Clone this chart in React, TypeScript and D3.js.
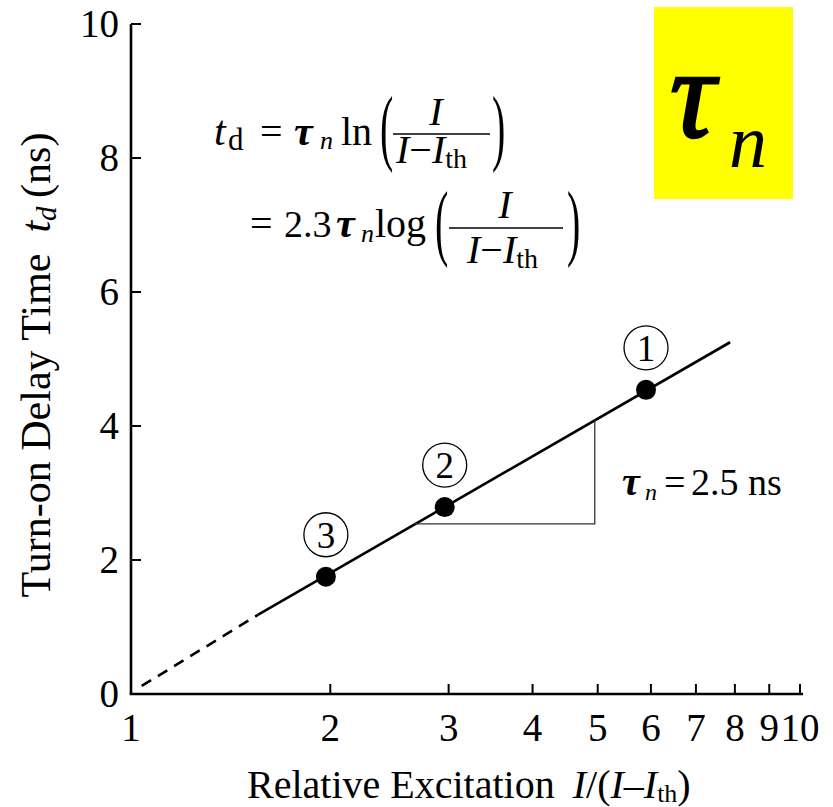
import React from "react";
import * as d3 from "d3";

// ---- data ----
const xTickValues = [1, 2, 3, 4, 5, 6, 7, 8, 9, 10];
const xTickLabels = ["1", "2", "3", "4", "5", "6", "7", "8", "9", "10"];
const yTickValues = [0, 2, 4, 6, 8, 10];
const yTickLabels = ["0", "2", "4", "6", "8", "10"];

// measured points (relative excitation, delay time ns)
const pointX = [5.9, 2.96, 1.97];
const pointY = [4.54, 2.79, 1.75];
const pointLabels = ["1", "2", "3"];

// fitted line: dashed extrapolation then solid
const dashX = [1.048, 1.56];
const dashY = [0.12, 1.18];
const solidX = [1.56, 7.87];
const solidY = [1.18, 5.25];

// slope triangle corners
const triX = [2.67, 4.95, 4.95];
const triY = [2.54, 2.54, 4.1];

const FONT = "'Liberation Serif', 'Times New Roman', serif";

export default function App() {
  const W = 833, H = 807;
  const x = d3.scaleLog().domain([1, 10]).range([128, 800]);
  const y = d3.scaleLinear().domain([0, 10]).range([694, 24]);
  const mk = (xs: number[], ys: number[]) =>
    d3.line<[number, number]>().x(d => x(d[0])).y(d => y(d[1]))(xs.map((v, i) => [v, ys[i]]) as [number, number][]) || "";
  const triPath = mk(triX, triY);
  const axisX0 = 131;
  const axisY0 = 694;

  const paren = (px: number, cy: number, ch: string, fs = 40, sy = 2.1) => (
    <text transform={`translate(${px},${cy}) scale(1,${sy})`} y={fs * 0.25} fontSize={fs} fontFamily={FONT}>{ch}</text>
  );

  return (
    <svg width={W} height={H} style={{ position: "absolute", left: 0, top: 0, background: "#fff" }} fontFamily={FONT}>
      <rect x={0} y={0} width={W} height={H} fill="#fff" />
      {/* yellow tau box */}
      <rect x={654} y={7} width={139} height={192} fill="#FFFF00" />
      <text x={670} y={137} fontSize={126} fontStyle="italic" stroke="#000" strokeWidth={2.5} fontFamily={FONT}>τ</text>
      <text x={729} y={167} fontSize={76} fontStyle="italic" fontFamily={FONT}>n</text>

      {/* axes */}
      <line x1={axisX0} x2={axisX0} y1={y(10)} y2={axisY0} stroke="#000" strokeWidth={2.6} />
      <line x1={axisX0 - 1.3} x2={803} y1={axisY0} y2={axisY0} stroke="#000" strokeWidth={2.6} />
      {yTickValues.filter(v => v > 0).map(v => (
        <line key={"yt" + v} x1={axisX0} x2={axisX0 + 10} y1={y(v)} y2={y(v)} stroke="#000" strokeWidth={2} />
      ))}
      {xTickValues.filter(v => v > 1).map(v => (
        <line key={"xt" + v} x1={x(v)} x2={x(v)} y1={axisY0} y2={axisY0 - 10} stroke="#000" strokeWidth={2} />
      ))}
      {yTickValues.map((v, i) => (
        <text key={"yl" + v} x={119} y={y(v) + 13} textAnchor="end" fontSize={39}>{yTickLabels[i]}</text>
      ))}
      {xTickValues.map((v, i) => (
        <text key={"xl" + v} x={v === 1 ? axisX0 : x(v)} y={741} textAnchor="middle" fontSize={39}>{xTickLabels[i]}</text>
      ))}

      {/* axis titles */}
      <text x={247} y={798} fontSize={40}>
        Relative Excitation{"\u00a0\u2009"}
        <tspan fontStyle="italic">I</tspan>/(<tspan fontStyle="italic">I</tspan>–<tspan fontStyle="italic">I</tspan>
        <tspan fontSize={26} dy={4}>th</tspan><tspan dy={-4}>)</tspan>
      </text>
      <text transform="translate(50,365) rotate(-90)" textAnchor="middle" fontSize={42}>
        Turn-on Delay Time{"\u00a0\u00a0"}
        <tspan fontStyle="italic">t</tspan>
        <tspan fontStyle="italic" fontSize={29} dy={6}>d</tspan>
        <tspan dy={-6}>{"\u2009"}(ns)</tspan>
      </text>

      {/* fitted line */}
      <path d={mk(dashX, dashY)} fill="none" stroke="#000" strokeWidth={2.6} strokeDasharray="11,8" />
      <path d={mk(solidX, solidY)} fill="none" stroke="#000" strokeWidth={2.6} />
      <path d={triPath} fill="none" stroke="#333" strokeWidth={1.3} />

      {/* points and circled labels */}
      {pointX.map((v, i) => (
        <g key={"p" + i}>
          <circle cx={x(v)} cy={y(pointY[i])} r={10} fill="#000" />
          <circle cx={x(v)} cy={y(pointY[i]) - 42} r={22} fill="none" stroke="#000" strokeWidth={1.3} />
          <text x={x(v)} y={y(pointY[i]) - 42 + 13} textAnchor="middle" fontSize={37}>{pointLabels[i]}</text>
        </g>
      ))}

      {/* tau_n = 2.5 ns */}
      <text x={622} y={495} fontSize={40} fontStyle="italic" fontWeight="bold">τ</text>
      <text x={645} y={500} fontSize={24} fontStyle="italic">n</text>
      <text x={664} y={495} fontSize={38}>=</text>
      <text x={691} y={495} fontSize={38}>2.5 ns</text>

      {/* formula line 1 */}
      <text x={214} y={145} fontSize={42} fontStyle="italic">t</text>
      <text x={228} y={150} fontSize={31}>d</text>
      <text x={260} y={145} fontSize={40}>=</text>
      <text x={294} y={145} fontSize={42} fontStyle="italic" fontWeight="bold">τ</text>
      <text x={320} y={149} fontSize={26} fontStyle="italic">n</text>
      <text x={341} y={145} fontSize={40}>ln</text>
      {paren(380, 133.5, "(")}
      <line x1={393} x2={490} y1={134} y2={134} stroke="#000" strokeWidth={1.6} />
      <text x={436} y={125} textAnchor="middle" fontSize={40} fontStyle="italic">I</text>
      <text x={396} y={163} fontSize={40}>
        <tspan fontStyle="italic">I</tspan>−<tspan fontStyle="italic">I</tspan>
        <tspan fontSize={28} dy={5}>th</tspan>
      </text>
      {paren(492, 133.5, ")")}

      {/* formula line 2 */}
      <text x={250} y={237} fontSize={40}>=</text>
      <text x={284} y={237} fontSize={38}>2.3</text>
      <text x={336} y={237} fontSize={42} fontStyle="italic" fontWeight="bold">τ</text>
      <text x={361} y={242} fontSize={26} fontStyle="italic">n</text>
      <text x={375} y={237} fontSize={40}>log</text>
      {paren(435, 228.5, "(")}
      <line x1={449} x2={563} y1={228} y2={228} stroke="#000" strokeWidth={1.6} />
      <text x={505} y={218} textAnchor="middle" fontSize={40} fontStyle="italic">I</text>
      <text x={467} y={263} fontSize={40}>
        <tspan fontStyle="italic">I</tspan>−<tspan fontStyle="italic">I</tspan>
        <tspan fontSize={28} dy={5}>th</tspan>
      </text>
      {paren(567, 228.5, ")")}
    </svg>
  );
}
